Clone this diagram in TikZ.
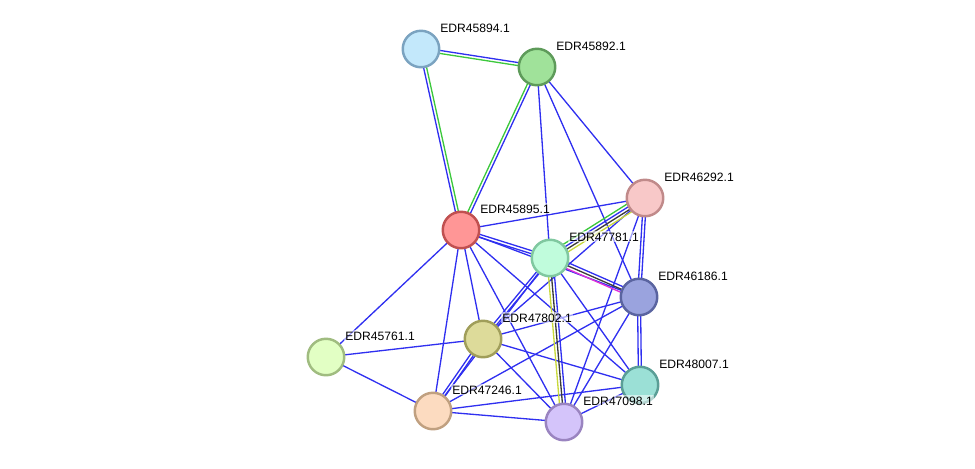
\documentclass[tikz,border=0pt]{standalone}
\usepackage{fontspec}
\setmainfont{Liberation Sans}
\usetikzlibrary{calc,backgrounds}
\definecolor{linkblue}{HTML}{2F2FF0}
\definecolor{linkgreen}{HTML}{3CC83C}
\definecolor{linkblack}{HTML}{3A3A3A}
\definecolor{linkyellow}{HTML}{C8D83A}
\definecolor{linkpink}{HTML}{E030D8}
\tikzset{
  prot/.style={circle,inner sep=0pt,minimum size=0.73cm,line width=1.4pt},
  lbl/.style={font=\fontsize{6.9}{8}\selectfont,inner sep=0.6pt,anchor=base west,
              fill=white,fill opacity=0.55,text opacity=1},
  link/.style={line width=0.75pt},
}
\begin{document}
\begin{tikzpicture}[x=0.02cm,y=-0.02cm]
    \useasboundingbox (0,0) rectangle (975,468);
    % proteins
    \foreach \id/\x/\y/\fc/\dc in {
      45894/421/49/C3E8FB/7BA3C0,
      45892/537/67/A0E29A/5E9B5A,
      46292/645/198/F8C8C8/C08A8A,
      45895/461/230/FF9696/C05050,
      47781/550/258/C0FCDC/80C8A0,
      46186/639/297/9AA3DE/5A64A0,
      47802/483/339/DDDB9A/A09E5A,
      45761/326/357/E2FFC4/A0BC80,
      48007/640/385/9BE0D6/5A9E96,
      47246/433/411/FCDBC0/C0A080,
      47098/564/422/D4C4FA/9A84C0%
    }{
      \definecolor{fc}{HTML}{\fc}
      \definecolor{dc}{HTML}{\dc}
      \node[prot,fill=fc,draw=dc] (p\id) at (\x,\y) {};
      \node[lbl] (t\id) at ($(p\id)+(18,-17)$) {EDR\id.1};
    }
    % interactions
    \begin{scope}[on background layer]
      \foreach \a/\b/\o/\c in {
        45892/47781/0pt/linkblue, 45892/46186/0pt/linkblue, 45892/46292/0pt/linkblue,
        45895/46292/0pt/linkblue, 45895/46186/0pt/linkblue, 45895/45761/0pt/linkblue,
        45895/47246/0pt/linkblue, 45895/47802/0pt/linkblue, 45895/47098/0pt/linkblue,
        45895/48007/0pt/linkblue, 47781/47246/0pt/linkblue, 47781/48007/0pt/linkblue,
        46292/47098/0pt/linkblue, 46292/47802/0pt/linkblue, 46186/47802/0pt/linkblue,
        46186/47246/0pt/linkblue, 46186/47098/0pt/linkblue, 47802/45761/0pt/linkblue,
        47802/47098/0pt/linkblue, 47802/48007/0pt/linkblue, 45761/47246/0pt/linkblue,
        47246/48007/0pt/linkblue, 47246/47098/0pt/linkblue, 47098/48007/0pt/linkblue,
        45895/47781/0.85pt/linkblue, 45895/47781/-0.85pt/linkblue,
        47781/47802/0.85pt/linkblue, 47781/47802/-0.85pt/linkblue,
        46292/46186/0.85pt/linkblue, 46292/46186/-0.85pt/linkblue,
        46186/48007/0.85pt/linkblue, 46186/48007/-0.85pt/linkblue,
        47802/47246/0.85pt/linkblue, 47802/47246/-0.85pt/linkblue,
        45894/45892/0.85pt/linkblue, 45894/45892/-0.85pt/linkgreen,
        45894/45895/-0.85pt/linkblue, 45894/45895/0.85pt/linkgreen,
        45892/45895/0.85pt/linkblue, 45892/45895/-0.85pt/linkgreen,
        47781/46292/2.55pt/linkgreen, 47781/46292/0.85pt/linkblue,
        47781/46292/-0.85pt/linkblack, 47781/46292/-2.55pt/linkyellow,
        47781/46186/1.7pt/linkblue, 47781/46186/0pt/linkblack, 47781/46186/-1.7pt/linkpink,
        47781/47098/1.7pt/linkblue, 47781/47098/0pt/linkblack, 47781/47098/-1.7pt/linkyellow%
      }{
        \draw[link,\c] ($(p\a)!\o!90:(p\b)$) -- ($(p\b)!\o!-90:(p\a)$);
      }
    \end{scope}
  \end{tikzpicture}
\end{document}
